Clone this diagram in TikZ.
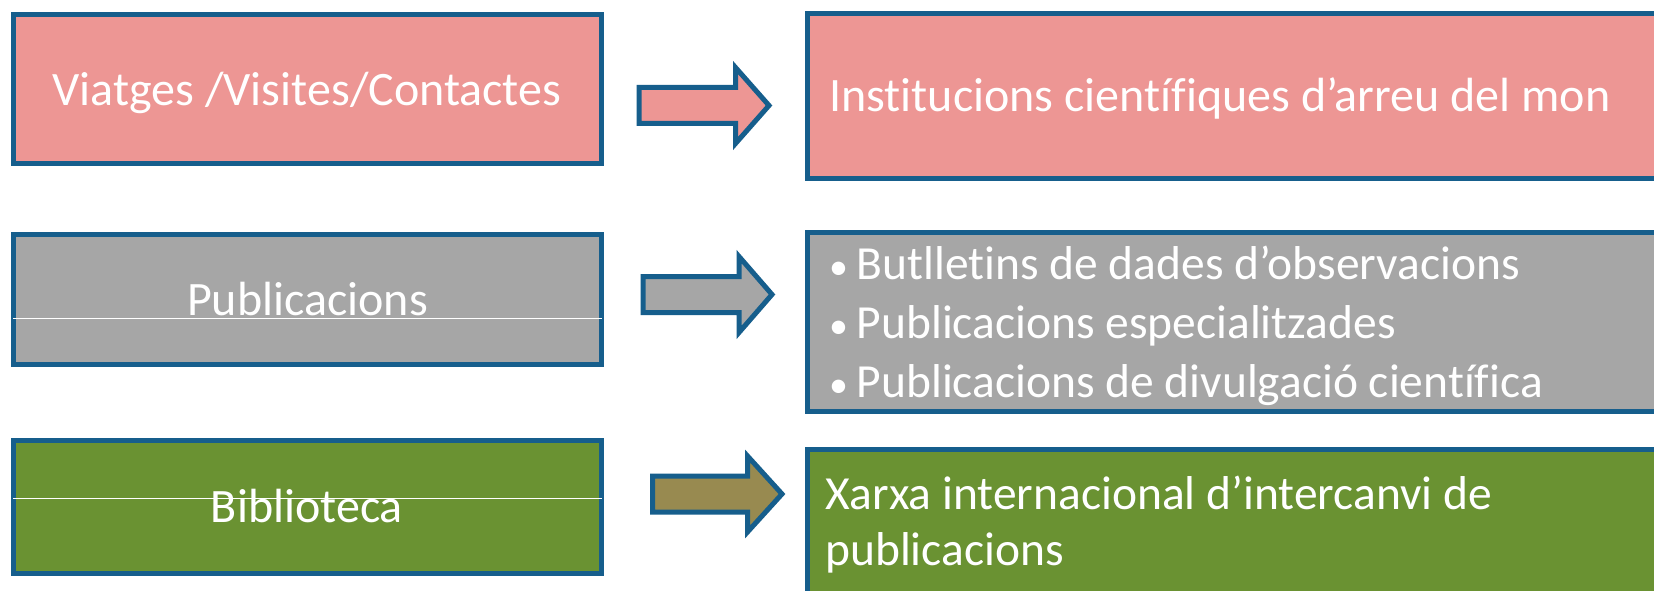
\documentclass[tikz,border=0pt]{standalone}
\usepackage{fontspec}
\setmainfont{Carlito}[Ligatures={NoCommon}]
\definecolor{bordblue}{RGB}{22,94,140}
\definecolor{pinkfill}{RGB}{237,150,148}
\definecolor{grayfill}{RGB}{166,166,166}
\definecolor{greenfill}{RGB}{106,146,50}
\definecolor{olivefill}{RGB}{152,138,80}
\tikzset{
  box/.style={draw=bordblue, line width=5pt, rectangle, inner sep=0pt},
  blockarrowstyle/.style={draw=bordblue, line width=5pt, line join=miter},
  bigtext/.style={text=white, font=\fontsize{48}{58}\selectfont, inner sep=0pt},
  midtext/.style={text=white, font=\fontsize{47.5}{58}\selectfont, inner sep=0pt, anchor=base west},
  whiteline/.style={draw=white, line width=1.2pt}
}
\newcommand\myblockarrow[5]{%
  \draw[blockarrowstyle, fill=#5] (#1,{#2-18}) -- (#3,{#2-18}) -- (#3,{#2-38}) -- (#4,#2) -- (#3,{#2+38}) -- (#3,{#2+18}) -- (#1,{#2+18}) -- cycle;}
\newcommand\mybullet{\makebox[28.5pt][l]{\hspace{1pt}{\fontsize{38}{38}\selectfont•}}}
\begin{document}
\begin{tikzpicture}[x=1pt,y=-1pt]
\clip (0,0) rectangle (1654,591);
\fill[white] (0,0) rectangle (1654,591);
% left boxes
\node[box, fill=pinkfill, minimum width=588.5pt, minimum height=149pt] (viatges) at (307.25,89) {};
\node[box, fill=grayfill, minimum width=588.5pt, minimum height=129.5pt] (publ) at (307.25,299.25) {};
\node[box, fill=greenfill, minimum width=588.5pt, minimum height=132.5pt] (bibl) at (307.25,506.75) {};
% right boxes
\node[box, fill=pinkfill, minimum width=890pt, minimum height=165pt] (inst) at (1252.5,96) {};
\node[box, fill=grayfill, minimum width=890pt, minimum height=179pt] (butl) at (1252.5,322) {};
\node[box, fill=greenfill, minimum width=890pt, minimum height=198pt] (xarxa) at (1252.5,548.5) {};
% white lines
\coordinate (pl1) at (13,318.7); \coordinate (pl2) at (601.5,318.7);
\coordinate (bl1) at (13,498.3); \coordinate (bl2) at (601.5,498.3);
\draw[whiteline] (pl1) -- (pl2);
\draw[whiteline] (bl1) -- (bl2);
% arrows
\myblockarrow{639}{105.5}{735.5}{769}{pinkfill}
\myblockarrow{643}{294.5}{739}{772}{grayfill}
\myblockarrow{652.5}{494}{747.5}{782}{olivefill}
% texts
\node[bigtext, anchor=base] (t1) at (307,106) {Viatges /Visites/Contactes};
\node[bigtext, anchor=base] (t2) at (307.5,315) {Publicacions};
\node[bigtext, anchor=base] (t3) at (307,522.7) {Biblioteca};
\node[bigtext, anchor=base west] (t4) at (829,112) {Institucions científiques d’arreu del mon};
\node[midtext] (b1) at (828,279.5) {\mybullet Butlletins de dades d’observacions};
\node[midtext] (b2) at (828,338.5) {\mybullet Publicacions especialitzades};
\node[midtext] (b3) at (828,397.5) {\mybullet Publicacions de divulgació científica};
\node[midtext] (x1) at (825,509) {Xarxa internacional d’intercanvi de};
\node[midtext] (x2) at (825,565) {publicacions};
\end{tikzpicture}
\end{document}
